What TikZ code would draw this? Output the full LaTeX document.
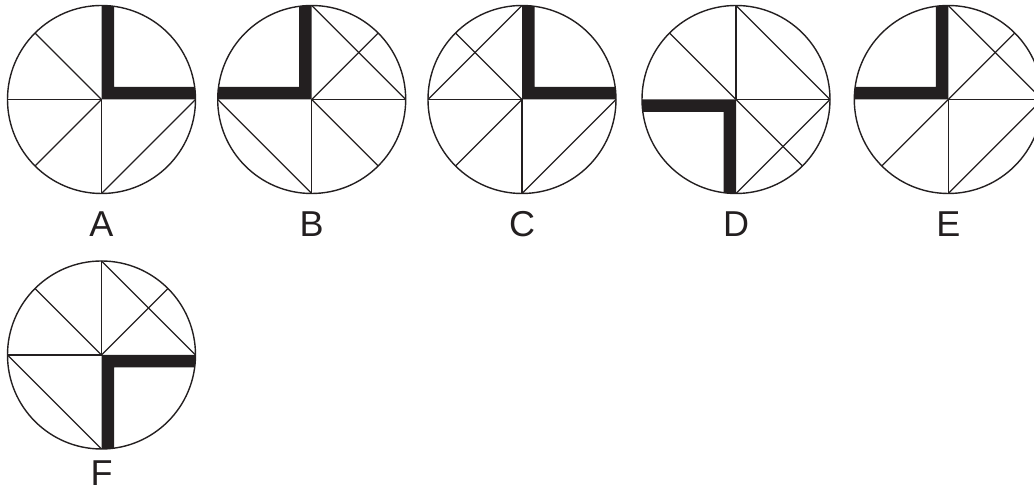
\documentclass[tikz,border=0pt]{standalone}
\usepackage{fontspec}
\setmainfont{Liberation Sans}
\definecolor{ink}{HTML}{231F20}
\newcommand{\rad}{94}
\newcommand{\barw}{12.5}

\begin{document}
\begin{tikzpicture}[x=1pt,y=1pt,line join=round]
\tikzset{
  rim/.style={draw=ink,line width=1.4pt},
  spoke/.style={ink,line width=1.3pt},
  bars/.style={fill=ink},
  tag/.style={font=\fontsize{36}{36}\selectfont,text=ink,anchor=base,inner sep=0pt}
}
\useasboundingbox (0,0) rectangle (1034,494);

% A: bars on N and E
\begin{scope}[shift={(101.5,394.5)}]
  \begin{scope}
    \clip (0,0) circle (\rad);
    \fill[bars] (0,0) rectangle (\barw,\rad) (0,0) rectangle (\rad,\barw);
  \end{scope}
  \foreach \a in {135,180,225,270} \draw[spoke] (0,0) -- (\a:\rad);
  \draw[spoke] (270:\rad) -- (0:\rad);
  \draw[rim] (0,0) circle (\rad);
  \node[tag] (labA) at (0,-137) {A};
\end{scope}

% B: bars on N and W
\begin{scope}[shift={(311.7,394.5)}]
  \begin{scope}
    \clip (0,0) circle (\rad);
    \fill[bars,rotate=90] (0,0) rectangle (\barw,\rad) (0,0) rectangle (\rad,\barw);
  \end{scope}
  \foreach \a in {45,0,315,270} \draw[spoke] (0,0) -- (\a:\rad);
  \draw[spoke] (90:\rad) -- (0:\rad);
  \draw[spoke] (180:\rad) -- (270:\rad);
  \draw[rim] (0,0) circle (\rad);
  \node[tag] (labB) at (0,-137) {B};
\end{scope}

% C: bars on N and E
\begin{scope}[shift={(522,394.5)}]
  \begin{scope}
    \clip (0,0) circle (\rad);
    \fill[bars] (0,0) rectangle (\barw,\rad) (0,0) rectangle (\rad,\barw);
  \end{scope}
  \foreach \a in {135,180,225,270} \draw[spoke] (0,0) -- (\a:\rad);
  \draw[spoke] (90:\rad) -- (180:\rad);
  \draw[spoke] (270:\rad) -- (0:\rad);
  \draw[rim] (0,0) circle (\rad);
  \node[tag] (labC) at (0,-137) {C};
\end{scope}

% D: bars on W and S
\begin{scope}[shift={(736,394.5)}]
  \begin{scope}
    \clip (0,0) circle (\rad);
    \fill[bars,rotate=180] (0,0) rectangle (\barw,\rad) (0,0) rectangle (\rad,\barw);
  \end{scope}
  \foreach \a in {135,90,0,315} \draw[spoke] (0,0) -- (\a:\rad);
  \draw[spoke] (90:\rad) -- (0:\rad);
  \draw[spoke] (0:\rad) -- (270:\rad);
  \draw[rim] (0,0) circle (\rad);
  \node[tag] (labD) at (0,-137) {D};
\end{scope}

% E: bars on N and W
\begin{scope}[shift={(948.3,394.5)}]
  \begin{scope}
    \clip (0,0) circle (\rad);
    \fill[bars,rotate=90] (0,0) rectangle (\barw,\rad) (0,0) rectangle (\rad,\barw);
  \end{scope}
  \foreach \a in {45,0,225,270} \draw[spoke] (0,0) -- (\a:\rad);
  \draw[spoke] (90:\rad) -- (0:\rad);
  \draw[spoke] (270:\rad) -- (0:\rad);
  \draw[rim] (0,0) circle (\rad);
  \node[tag] (labE) at (0,-137) {E};
\end{scope}

% F: bars on E and S
\begin{scope}[shift={(101.5,139)}]
  \begin{scope}
    \clip (0,0) circle (\rad);
    \fill[bars,rotate=270] (0,0) rectangle (\barw,\rad) (0,0) rectangle (\rad,\barw);
  \end{scope}
  \foreach \a in {135,90,45,180} \draw[spoke] (0,0) -- (\a:\rad);
  \draw[spoke] (90:\rad) -- (0:\rad);
  \draw[spoke] (180:\rad) -- (270:\rad);
  \draw[rim] (0,0) circle (\rad);
  \node[tag] (labF) at (0,-131) {F};
\end{scope}
\end{tikzpicture}
\end{document}
